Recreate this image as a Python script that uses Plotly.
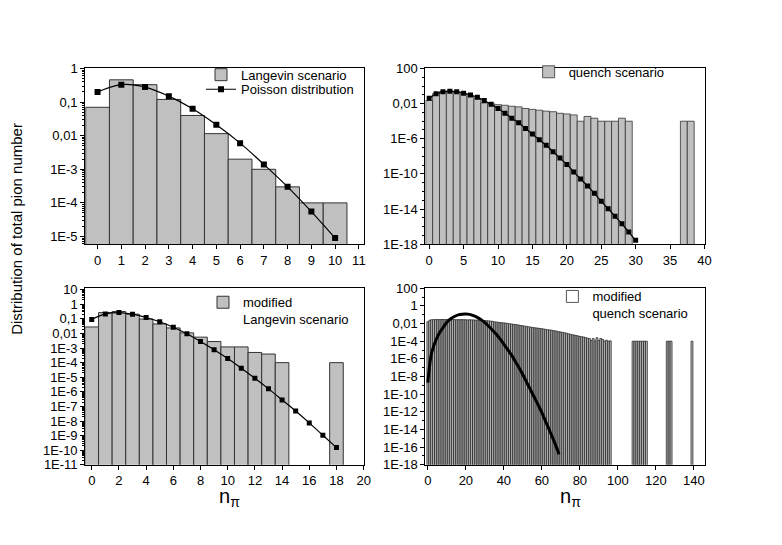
import plotly.graph_objects as go

W, H = 782, 545

# top left: Langevin scenario vs Poisson
lang_n = list(range(11))
lang_p = [0.07, 0.46, 0.33, 0.12, 0.04, 0.0115, 0.002, 0.001, 0.0003, 0.0001, 0.0001]
pois1_n = list(range(11))
pois1_p = [0.2, 0.33, 0.28, 0.15, 0.063, 0.021, 0.006, 0.0014, 0.0003, 5.5e-5, 9e-6]

# top right: quench scenario vs Poisson
quench_n = list(range(30)) + [37, 38]
quench_p = [0.023, 0.14, 0.24, 0.27, 0.23, 0.13, 0.075, 0.04, 0.012, 0.0098,
            0.0076, 0.0065, 0.005, 0.0043, 0.0028, 0.0022, 0.0018, 0.0014, 0.0012, 8e-4,
            6.7e-4, 5.2e-4, 1e-4, 3.5e-4, 2.2e-4, 1e-4, 1e-4, 1e-4, 2.2e-4, 1e-4,
            1e-4, 1e-4]
pois2_n = list(range(31))
pois2_p = [0.041, 0.13, 0.22, 0.26, 0.22, 0.155, 0.095, 0.052, 0.023, 8.3e-3,
           2.8e-3, 7.9e-4, 2.2e-4, 6.5e-5, 1.5e-5, 3.4e-6, 7.6e-7, 1.8e-7, 3.4e-8, 6.3e-9,
           1.2e-9, 1.7e-10, 2.7e-11, 4.3e-12, 6.2e-13, 7.6e-14, 1.1e-14, 1.5e-15, 2.1e-16, 2.4e-17,
           2.8e-18]

# bottom left: modified Langevin scenario vs Poisson
mlang_n = list(range(15)) + [18]
mlang_p = [0.028, 0.27, 0.32, 0.21, 0.098, 0.045, 0.024, 0.011, 0.0056, 0.0028,
           0.0012, 0.0012, 0.0005, 0.00039, 0.0001, 0.0001]
pois3_n = list(range(19))
pois3_p = [0.092, 0.22, 0.27, 0.21, 0.125, 0.064, 0.027, 0.0095, 0.0028, 7.6e-4,
           1.9e-4, 4.2e-5, 8.5e-6, 1.6e-6, 2.8e-7, 4.8e-8, 7.4e-9, 1.05e-9, 1.5e-10]

# bottom right: modified quench scenario + smooth curve
mq_n = list(range(97)) + list(range(108, 116)) + [126, 127, 128, 139]
mq_p = [0.016, 0.024, 0.027, 0.028, 0.028, 0.029, 0.028, 0.029, 0.029, 0.028,
        0.029, 0.028, 0.028, 0.029, 0.028, 0.027, 0.028, 0.027, 0.028, 0.027,
        0.027, 0.026, 0.027, 0.026, 0.026, 0.025, 0.025, 0.024, 0.024, 0.023,
        0.022, 0.021, 0.02, 0.019, 0.018, 0.016, 0.015, 0.014, 0.013, 0.012,
        0.012, 0.011, 0.0105, 0.0095, 0.009, 0.0083, 0.0078, 0.0072, 0.0066, 0.006,
        0.0056, 0.0051, 0.0047, 0.0043, 0.004, 0.0037, 0.0034, 0.0032, 0.003, 0.0028,
        0.0026, 0.0024, 0.0022, 0.002, 0.0019, 0.0018, 0.0016, 0.0015, 0.0013, 0.0012,
        0.0011, 0.001, 0.0009, 0.0008, 0.0007, 0.0006, 0.00055, 0.0005, 0.00045, 0.0004,
        0.00035, 0.00032, 0.0003, 0.00026, 0.00022, 0.0002, 0.00012, 0.0002, 0.00011, 0.00025,
        0.00012, 0.0002, 0.00016, 0.0001, 0.00013, 0.0001, 0.00011,
        1e-4, 1e-4, 1e-4, 1e-4, 1e-4, 1e-4, 1e-4, 1e-4,
        1e-4, 1e-4, 1e-4, 1e-4]
curve_n = [0, 1, 2, 3, 4, 6, 8, 10, 12, 14, 16, 18, 20, 22, 24, 26, 28, 30, 32, 34,
           36, 38, 40, 42, 44, 46, 48, 50, 52, 54, 56, 58, 60, 62, 64, 66, 68, 69]
curve_p = [2.0e-9, 2.5e-7, 5.0e-6, 2.5e-5, 1.0e-4, 7.9e-4, 3.5e-3, 1.4e-2, 3.5e-2, 6.3e-2,
           9.5e-2, 0.115, 0.12, 0.11, 7.9e-2, 5.0e-2, 2.8e-2, 1.26e-2, 5.0e-3, 1.8e-3,
           6.3e-4, 1.8e-4, 4.5e-5, 1.1e-5, 2.8e-6, 5.0e-7, 1.0e-7, 1.6e-8, 2.2e-9, 3.2e-10,
           4.5e-11, 6.3e-12, 7.9e-13, 7.9e-14, 7.9e-15, 7.9e-16, 6.3e-17, 1.6e-17]

FONT = "Liberation Sans, Arial, sans-serif"
GRAY = "#c0c0c0"

fig = go.Figure()

# top left
fig.add_bar(x=lang_n, y=lang_p, width=1, name="Langevin scenario",
            marker=dict(color=GRAY, line=dict(color="#333333", width=1)),
            xaxis="x", yaxis="y", legend="legend")
fig.add_scatter(x=pois1_n, y=pois1_p, mode="lines+markers", name="Poisson distribution",
                line=dict(color="black", width=1.2, shape="spline"),
                marker=dict(symbol="square", size=6, color="black"),
                xaxis="x", yaxis="y", legend="legend5")
# top right
fig.add_bar(x=quench_n, y=quench_p, width=1, name="quench scenario",
            marker=dict(color=GRAY, line=dict(color="#333333", width=0.8)),
            xaxis="x2", yaxis="y2", legend="legend2")
fig.add_scatter(x=pois2_n, y=pois2_p, mode="lines+markers", showlegend=False,
                line=dict(color="black", width=1.2, shape="spline"),
                marker=dict(symbol="square", size=5, color="black"),
                xaxis="x2", yaxis="y2")
# bottom left
fig.add_bar(x=mlang_n, y=mlang_p, width=1, name="modified<br>Langevin scenario",
            marker=dict(color=GRAY, line=dict(color="#333333", width=1)),
            xaxis="x3", yaxis="y3", legend="legend3")
fig.add_scatter(x=pois3_n, y=pois3_p, mode="lines+markers", showlegend=False,
                line=dict(color="black", width=1.2, shape="spline"),
                marker=dict(symbol="square", size=5, color="black"),
                xaxis="x3", yaxis="y3")
# bottom right: dense thin bars look striped grey, legend swatch is an open box
fig.add_bar(x=mq_n, y=mq_p, width=1, showlegend=False,
            marker=dict(color="#bdbdbd", line=dict(color="#2a2a2a", width=0.8)),
            xaxis="x4", yaxis="y4")
fig.add_bar(x=[None], y=[None], name="modified<br>quench scenario",
            marker=dict(color="white", line=dict(color="#555555", width=1)),
            xaxis="x4", yaxis="y4", legend="legend4")
fig.add_scatter(x=curve_n, y=curve_p, mode="lines", showlegend=False,
                line=dict(color="black", width=3, shape="spline"),
                xaxis="x4", yaxis="y4")


def xax(left, right, rng, dtick, anchor):
    return dict(domain=[left / W, right / W], range=rng, tick0=0, dtick=dtick,
                ticks="outside", ticklen=4, tickcolor="black", showline=True,
                linecolor="black", linewidth=1, mirror=True, showgrid=False,
                zeroline=False, anchor=anchor, tickfont=dict(size=13, color="black"))


def yax(top, bottom, lo, hi, labels, minor, anchor):
    vals = [10.0 ** e for e in labels]
    text = []
    for e in labels:
        text.append({2: "100", 1: "10", 0: "1", -1: "0,1", -2: "0,01"}.get(e, "1E%d" % e))
    return dict(domain=[1 - bottom / H, 1 - top / H], type="log", range=[lo, hi],
                tickmode="array", tickvals=vals, ticktext=text,
                ticks="outside", ticklen=4, tickcolor="black", showline=True,
                linecolor="black", linewidth=1, mirror=True, showgrid=False,
                zeroline=False, anchor=anchor, tickfont=dict(size=13, color="black"),
                minor=dict(tickvals=minor, ticks="outside", ticklen=2, tickcolor="black"))


def minors(lo, hi, step):
    out = []
    for e in range(lo, hi):
        if step == "sub":
            out += [m * 10.0 ** e for m in range(2, 10)]
        else:
            out.append(10.0 ** e)
    return out


def leg(x, y, **kw):
    return dict(x=x / W, y=1 - y / H, xanchor="left", yanchor="top",
                bgcolor="rgba(0,0,0,0)", font=dict(size=13), **kw)


fig.update_layout(
    width=W, height=H, margin=dict(l=0, r=0, t=0, b=0),
    paper_bgcolor="white", plot_bgcolor="white",
    font=dict(family=FONT, color="black", size=13),
    barmode="overlay", showlegend=True,
    xaxis=xax(77, 359, [-0.52, 11.23], 1, "y"),
    yaxis=yax(55, 235.7, -5.23, 0, [0, -1, -2, -3, -4, -5], minors(-6, 0, "sub"), "x"),
    xaxis2=xax(420.7, 702.7, [-0.55, 40], 5, "y2"),
    yaxis2=yax(55, 235.7, -18, 2, [2, -2, -6, -10, -14, -18], minors(-18, 2, "dec"), "x2"),
    xaxis3=xax(77, 359, [-0.48, 20.05], 2, "y3"),
    yaxis3=yax(281, 462.5, -11, 1.1, list(range(1, -12, -1)), minors(-11, 1, "sub"), "x3"),
    xaxis4=xax(420.7, 702.7, [-1.3, 145.6], 20, "y4"),
    yaxis4=yax(281, 462.5, -18, 2, list(range(2, -19, -2)), minors(-18, 2, "dec"), "x4"),
    legend=leg(194, 46),
    legend5=leg(194, 61),
    legend2=leg(525, 43),
    legend3=leg(196, 280, valign="top"),
    legend4=leg(549, 274, valign="top"),
    annotations=[
        dict(text="Distribution of total pion number", x=8 / W, y=1 - 220 / H,
             xref="paper", yref="paper", xanchor="center", yanchor="middle",
             textangle=-90, showarrow=False, font=dict(size=15)),
        dict(text="n<sub>π</sub>", x=223 / W, y=1 - 481 / H, xref="paper", yref="paper",
             xanchor="center", yanchor="top", showarrow=False, font=dict(size=20)),
        dict(text="n<sub>π</sub>", x=567 / W, y=1 - 481 / H, xref="paper", yref="paper",
             xanchor="center", yanchor="top", showarrow=False, font=dict(size=20)),
    ],
)

fig.write_html("out.html")
